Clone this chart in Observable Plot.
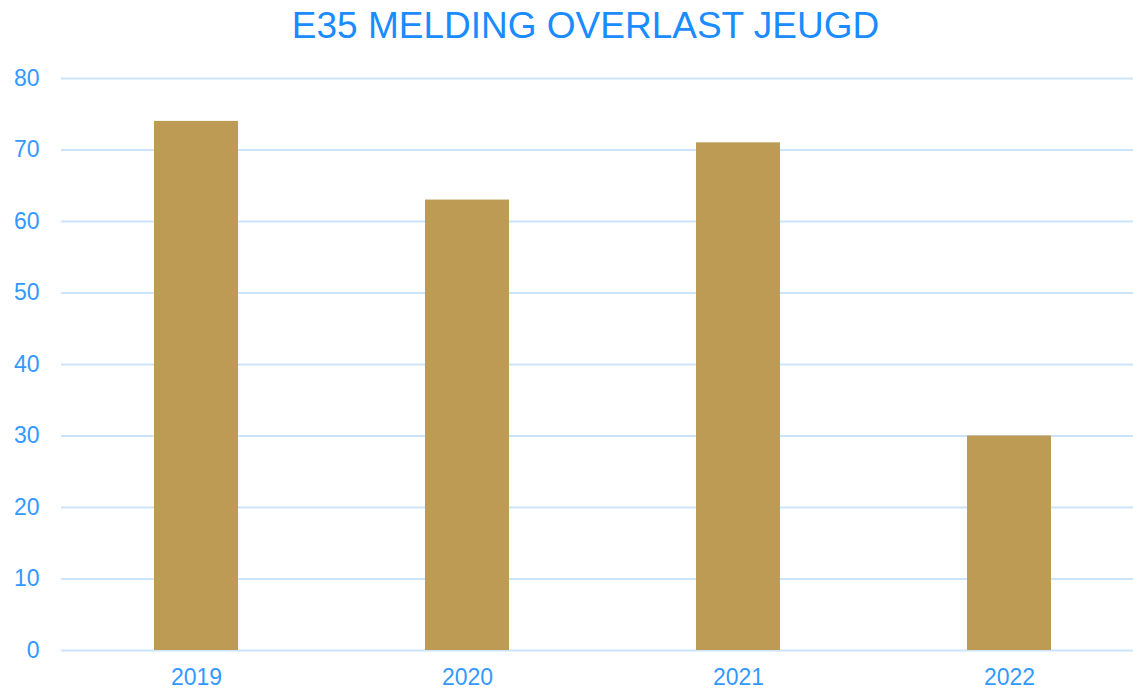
<!DOCTYPE html>
<html>
<head>
<meta charset="utf-8">
<script src="https://cdn.jsdelivr.net/npm/d3@7"></script>
<script src="https://cdn.jsdelivr.net/npm/@observablehq/plot@0.6"></script>
<style>
  html, body { margin: 0; padding: 0; background: #fff; }
  #title { height: 50px; line-height: 52px; text-align: center; padding-left: 38px;
           font-family: "Liberation Sans", Arial, sans-serif; font-size: 37px; color: #1a8cff; white-space: nowrap; }
  svg { display: block; }
</style>
</head>
<body>
<div id="title">E35 MELDING OVERLAST JEUGD</div>
<div id="chart"></div>
<script>
const years = ["2019", "2020", "2021", "2022"];
const counts = [74, 63, 71, 30];
const yTicks = [0, 10, 20, 30, 40, 50, 60, 70, 80];

const data = years.map((y, i) => ({year: y, count: counts[i]}));

const chart = Plot.plot({
  width: 1133,
  height: 641,
  marginTop: 28,
  marginBottom: 41,
  marginLeft: 61,
  marginRight: 0,
  style: {fontFamily: "Liberation Sans, Arial, sans-serif", fontSize: "23px", color: "#3399ff", background: "#fff"},
  x: {domain: years, range: [61, 1145], paddingInner: 0.69, paddingOuter: 0.345, label: null},
  y: {domain: [0, 80], label: null},
  marks: [
    Plot.ruleY(yTicks, {stroke: "#cbe4fc", strokeWidth: 2}),
    Plot.barY(data, {x: "year", y: "count", fill: "#bd9b55"}),
    Plot.axisY(yTicks, {tickSize: 0, tickPadding: 22, label: null, fill: "#3399ff"}),
    Plot.axisX({tickSize: 0, tickPadding: 18, label: null, fill: "#3399ff"})
  ]
});
document.getElementById("chart").appendChild(chart);
</script>
</body>
</html>
